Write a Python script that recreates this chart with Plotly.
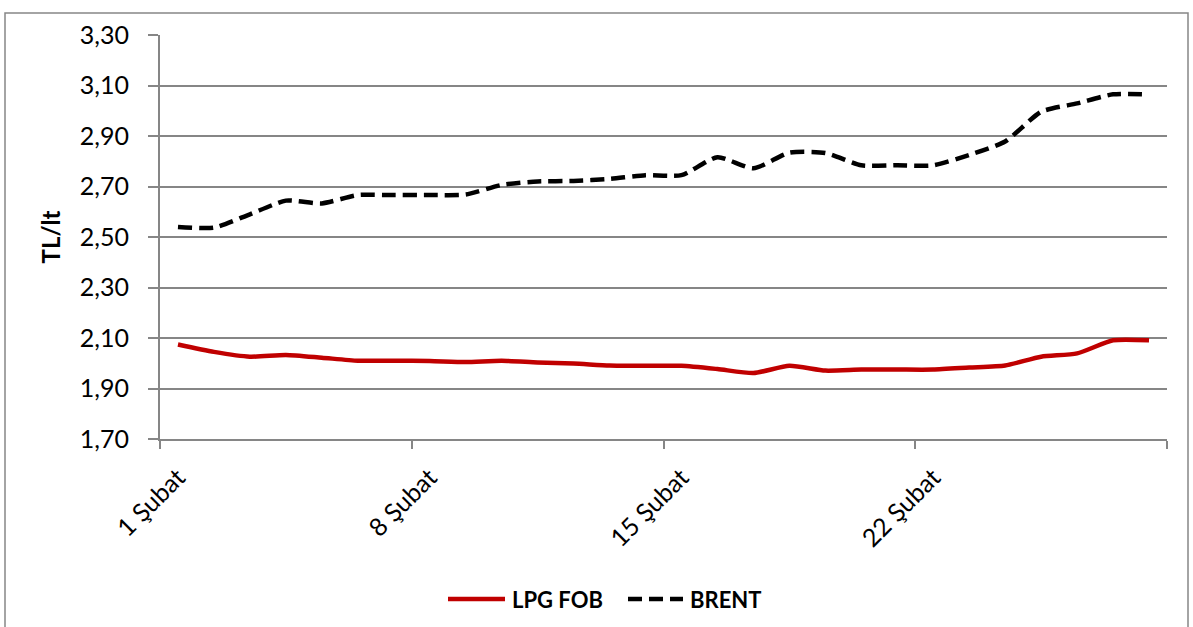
import plotly.graph_objects as go

days = list(range(1, 29))
tick_days = [1, 8, 15, 22]
tick_labels = ["1 Şubat", "8 Şubat", "15 Şubat", "22 Şubat"]

lpg_fob = [2.074, 2.045, 2.026, 2.033, 2.022, 2.010, 2.010, 2.009, 2.005, 2.010,
           2.003, 1.999, 1.991, 1.990, 1.990, 1.977, 1.961, 1.990, 1.971, 1.975,
           1.975, 1.975, 1.983, 1.991, 2.026, 2.039, 2.091, 2.091]
brent = [2.540, 2.537, 2.590, 2.644, 2.633, 2.666, 2.666, 2.666, 2.668, 2.706,
         2.720, 2.722, 2.730, 2.745, 2.745, 2.816, 2.772, 2.834, 2.833, 2.784,
         2.784, 2.784, 2.825, 2.878, 2.996, 3.029, 3.065, 3.065]
series_names = ["LPG FOB", "BRENT"]
series_colors = ["#C00000", "#000000"]

W, H = 1193, 627
L, R, T, B = 160, 26, 35, 188
pw, ph = W - L - R, H - T - B

def px_x(p):
    return (p - L) / pw

def px_y(p):
    return (H - B - p) / ph

font = "Lato, Open Sans, sans-serif"
grey = "#868686"

fig = go.Figure()
fig.add_trace(go.Scatter(x=days, y=lpg_fob, name=series_names[0], mode="lines", showlegend=False,
                         line=dict(color=series_colors[0], width=4.5, shape="spline", smoothing=0.6)))
fig.add_trace(go.Scatter(x=days, y=brent, name=series_names[1], mode="lines", showlegend=False,
                         line=dict(color=series_colors[1], width=4.5, dash="14px,7px",
                                   shape="spline", smoothing=0.6)))

# legend drawn as shapes + text
shapes = [dict(type="rect", xref="paper", yref="paper",
               x0=px_x(5), x1=px_x(1188), y0=px_y(640), y1=px_y(13),
               line=dict(color=grey, width=1.5), fillcolor="rgba(0,0,0,0)", layer="below"),
          dict(type="line", xref="paper", yref="paper", x0=px_x(448), x1=px_x(505),
               y0=px_y(599), y1=px_y(599), line=dict(color=series_colors[0], width=4.5)),
          dict(type="line", xref="paper", yref="paper", x0=px_x(628), x1=px_x(683),
               y0=px_y(599), y1=px_y(599), line=dict(color=series_colors[1], width=4.5, dash="14px,7px"))]
annotations = [dict(text="<b>%s</b>" % series_names[0], xref="paper", yref="paper",
                    x=px_x(510), y=px_y(599), xanchor="left", yanchor="middle", showarrow=False,
                    font=dict(size=22, family=font, color="#000000")),
               dict(text="<b>%s</b>" % series_names[1], xref="paper", yref="paper",
                    x=px_x(688), y=px_y(599), xanchor="left", yanchor="middle", showarrow=False,
                    font=dict(size=22, family=font, color="#000000"))]

fig.update_layout(
    width=W, height=H,
    margin=dict(l=L, r=R, t=T, b=B),
    paper_bgcolor="white", plot_bgcolor="white",
    separators=",.",
    font=dict(family=font, color="#000000", size=25),
    showlegend=False,
    xaxis=dict(range=[0.5, 28.5], tickmode="array", tickvals=tick_days, ticktext=tick_labels,
               tickangle=-45, ticks="", showgrid=False, zeroline=False,
               showline=True, linecolor=grey, linewidth=2,
               ticklabelstandoff=12,
               tickfont=dict(size=25, family=font),
               minor=dict(tickmode="array", tickvals=[0.5, 7.5, 14.5, 21.5, 28.5],
                          ticks="outside", ticklen=8, tickcolor=grey, tickwidth=2, showgrid=False)),
    yaxis=dict(range=[1.70, 3.30], tickmode="array",
               tickvals=[1.70, 1.90, 2.10, 2.30, 2.50, 2.70, 2.90, 3.10, 3.30],
               tickformat=".2f", ticks="outside", ticklen=10, tickcolor=grey, tickwidth=2,
               showgrid=True, gridcolor=grey, gridwidth=1.5, zeroline=False,
               showline=True, linecolor=grey, linewidth=2,
               ticklabelstandoff=14,
               tickfont=dict(size=25, family=font),
               title=dict(text="<b>TL/lt</b>", font=dict(size=24, family=font), standoff=12)),
    shapes=shapes,
    annotations=annotations,
)

fig.write_html("out.html", config={"displayModeBar": False},
               post_script="document.body.style.margin='0';")
